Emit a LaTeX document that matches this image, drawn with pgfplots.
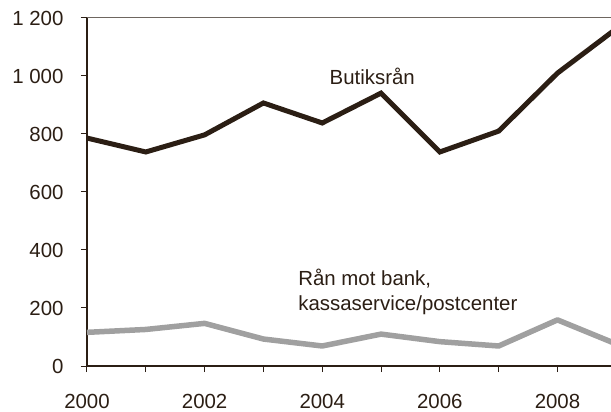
\documentclass[border=0pt]{standalone}
\usepackage{fontspec}
\setmainfont{Liberation Sans}
\usepackage{pgfplots}
\pgfplotsset{compat=1.18}
\definecolor{ink}{HTML}{2B1E14}
\definecolor{bankgray}{HTML}{A0A0A0}
\definecolor{topline}{HTML}{6E6660}

\begin{document}
\begin{tikzpicture}
\useasboundingbox (-87bp,-46bp) rectangle (524bp,366bp);
\begin{axis}[
  at={(0,0)}, anchor=south west,
  scale only axis,
  width=524bp, height=348bp,
  xmin=0, xmax=8.91,
  ymin=0, ymax=1200,
  axis x line*=bottom,
  axis y line*=left,
  axis line style={ink, line width=1.6bp, -},
  tick align=outside,
  tick style={ink, line width=1bp},
  major tick length=6bp,
  minor tick length=6bp,
  xtick={0,2,4,6,8},
  xticklabels={2000,2002,2004,2006,2008},
  minor xtick={1,3,5,7},
  ytick={0,200,...,1200},
  extra y ticks={1200},
  extra y tick labels={},
  extra y tick style={ymajorgrids=true, major grid style={topline, line width=1bp}},
  font=\fontsize{20.5}{24}\selectfont\color{ink},
  /pgf/number format/assume math mode=true,
  yticklabel style={/pgf/number format/1000 sep={\ }, xshift=-14bp},
  xticklabel style={yshift=-18.5bp},
  clip=true,
]
\addplot[bankgray, line width=5.5bp, line join=round] coordinates {
  (0,116) (1,126) (2,147) (3,93) (4,69) (5,110)
  (6,84) (7,69) (8,159) (9,76)
};
\addplot[ink, line width=5bp, line join=miter] coordinates {
  (0,786) (1,738) (2,797) (3,907) (4,838) (5,941)
  (6,738) (7,810) (8,1010) (9,1163)
};
\node[anchor=base, inner sep=0pt] at (axis cs:4.85,969) {Butiksrån};
\node[anchor=base west, inner sep=0pt] at (axis cs:3.59,279) {Rån mot bank,};
\node[anchor=base west, inner sep=0pt] at (axis cs:3.59,190) {kassaservice/postcenter};
\end{axis}
\end{tikzpicture}
\end{document}
